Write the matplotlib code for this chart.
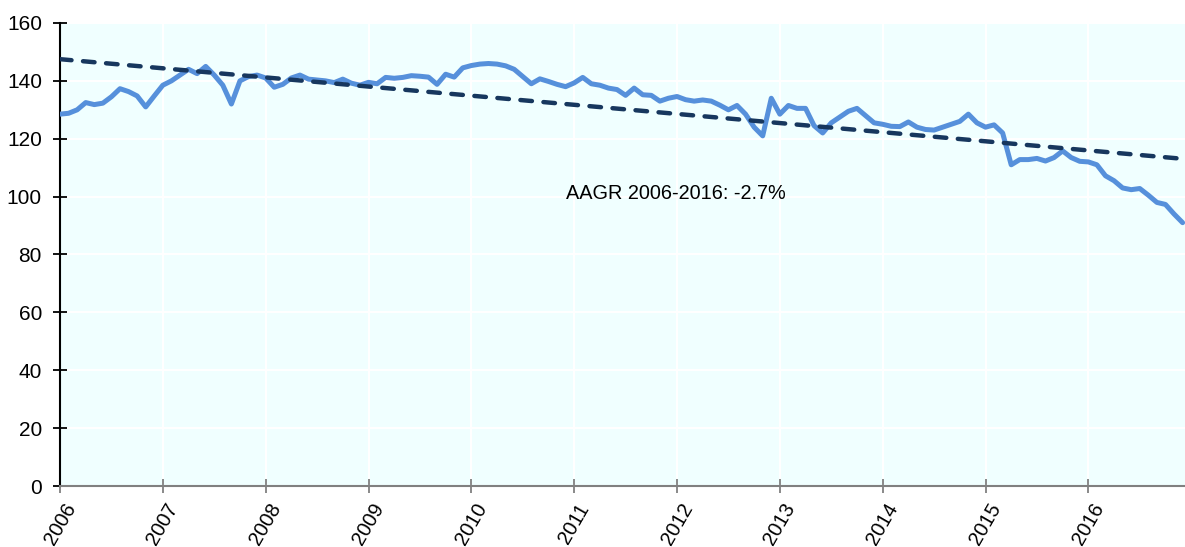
import matplotlib
matplotlib.use("Agg")
import matplotlib.pyplot as plt
import numpy as np

plt.rcParams['font.family'] = ['Liberation Sans', 'DejaVu Sans']

start_year = 2006
values = [
    128.5, 128.8, 130.0, 132.5, 131.8, 132.3, 134.5, 137.3, 136.3, 134.8, 131.0, 134.8,  # 2006
    138.5, 140.0, 142.0, 144.0, 142.5, 145.0, 142.0, 138.5, 132.0, 140.0, 141.5, 142.0,  # 2007
    141.0, 137.8, 138.8, 141.0, 142.0, 140.6, 140.3, 140.0, 139.4, 140.6, 139.2, 138.5,  # 2008
    139.5, 139.0, 141.2, 140.9, 141.2, 141.8, 141.6, 141.3, 138.8, 142.3, 141.3, 144.5,  # 2009
    145.3, 145.8, 146.0, 145.8, 145.2, 144.0, 141.5, 139.0, 140.7, 139.8, 138.8, 138.0,  # 2010
    139.3, 141.2, 139.0, 138.5, 137.5, 137.0, 135.0, 137.5, 135.2, 135.0, 133.0, 134.0,  # 2011
    134.6, 133.5, 133.0, 133.4, 133.0, 131.6, 130.0, 131.5, 128.5, 124.0, 121.0, 134.0,  # 2012
    128.5, 131.5, 130.5, 130.5, 124.5, 122.0, 125.5, 127.5, 129.5, 130.5, 128.0, 125.5,  # 2013
    125.0, 124.3, 124.2, 125.8, 124.0, 123.2, 123.0, 124.0, 125.0, 126.0, 128.5, 125.5,  # 2014
    124.0, 124.8, 122.0, 111.0, 112.8, 112.8, 113.2, 112.3, 113.5, 115.8, 113.5, 112.2,  # 2015
    112.0, 111.0, 107.2, 105.5, 103.0, 102.4, 102.8, 100.5, 98.0, 97.3, 94.0, 91.0,      # 2016
]
trend_start = 147.5
trend_end = 113.0
annotation = "AAGR 2006-2016: -2.7%"
year_ticks = list(range(2006, 2017))
y_ticks = [0, 20, 40, 60, 80, 100, 120, 140, 160]

x = start_year + np.arange(len(values)) / 12.0
x_end = 2016.94

fig = plt.figure(figsize=(11.85, 5.47), dpi=100)
ax = fig.add_axes([60/1185, 1 - 486/547, 1 - 60/1185, (486 - 23)/547])
ax.set_facecolor('#F0FFFF')

ax.plot(x, values, color='#5690DB', lw=3.6, solid_joinstyle='round',
        solid_capstyle='round', zorder=3)
ax.plot([start_year, x_end], [trend_start, trend_end], color='#17375E', lw=3.2,
        dashes=(2.6, 2.6), dash_capstyle='round', zorder=4)

ax.text(2011.99, 101, annotation, ha='center', va='center', fontsize=14.3, color='black')

ax.set_xlim(start_year, x_end)
ax.set_ylim(0, 160)
ax.set_xticks(year_ticks)
ax.set_xticklabels([str(y) for y in year_ticks], rotation=60, ha='center', fontsize=14.5)
ax.set_yticks(y_ticks)
ax.set_yticklabels([str(v) for v in y_ticks], fontsize=15)

ax.grid(True, color='white', lw=1.5, zorder=0)
ax.set_axisbelow(True)
for s in ['top', 'right']:
    ax.spines[s].set_visible(False)
ax.spines['left'].set_color('black')
ax.spines['left'].set_linewidth(1.5)
ax.spines['bottom'].set_color('#808080')
ax.spines['bottom'].set_linewidth(1.5)
ax.tick_params(axis='y', direction='inout', length=10, width=1.3, color='black', pad=8)
ax.tick_params(axis='x', direction='inout', length=10, width=1.3, color='#808080', pad=5)

fig.savefig('out.png', dpi=100)
